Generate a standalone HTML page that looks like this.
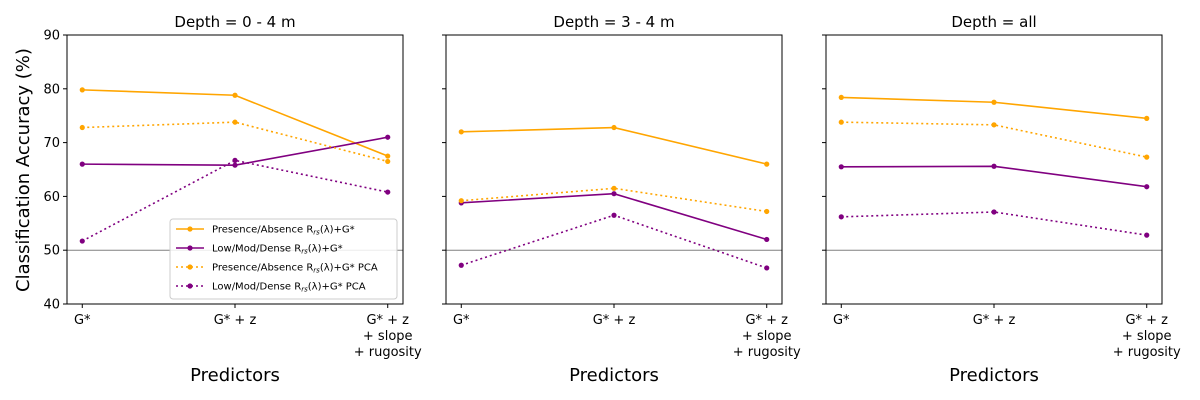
<!DOCTYPE html>
<html><head><meta charset="utf-8"><style>
body{margin:0;background:#fff}
svg{display:block;font-family:"DejaVu Sans","Liberation Sans",sans-serif}
</style></head><body>
<svg id="chart" width="1200" height="400"></svg>
<script>
const categories=["G*","G* + z","G* + z\n+ slope\n+ rugosity"];
const panelTitles=["Depth = 0 - 4 m","Depth = 3 - 4 m","Depth = all"];
const yTicks=[40,50,60,70,80,90];
const seriesNames=["Presence/Absence","Low/Mod/Dense","Presence/Absence PCA","Low/Mod/Dense PCA"];
const paSolid=[[79.8,78.8,67.5],[72,72.8,66],[78.4,77.5,74.5]];
const lmdSolid=[[66,65.8,71],[58.8,60.5,52],[65.5,65.6,61.8]];
const paPCA=[[72.8,73.8,66.5],[59.2,61.5,57.2],[73.8,73.3,67.3]];
const lmdPCA=[[51.7,66.7,60.8],[47.2,56.5,46.7],[56.2,57.1,52.8]];
const refLine=50;

const NS="http://www.w3.org/2000/svg";
const svg=document.getElementById('chart');
function mk(t,a,p){const e=document.createElementNS(NS,t);for(const k in a)e.setAttribute(k,a[k]);(p||svg).appendChild(e);return e;}
const panelX=[67,446,826],PW=336,PT=35,PB=304;
const yS=v=>PB-(v-40)/50*(PB-PT);
const seriesDefs=[
 {d:paSolid,c:"orange",dash:null,name:"presence-absence-line"},
 {d:lmdSolid,c:"purple",dash:null,name:"low-mod-dense-line"},
 {d:paPCA,c:"orange",dash:"2,3",name:"presence-absence-pca-line"},
 {d:lmdPCA,c:"purple",dash:"2,3",name:"low-mod-dense-pca-line"}];
panelX.forEach((x0,pi)=>{
 const xS=i=>x0+(i+0.1)/2.2*PW;
 const g=mk('g',{});
 
 
 const ref=mk('line',{x1:x0,x2:x0+PW,y1:yS(refLine),y2:yS(refLine),stroke:"#808080","stroke-width":1},g);
 
 
 seriesDefs.forEach(s=>{
  const vals=s.d[pi];
  const pl=mk('polyline',{points:vals.map((v,i)=>xS(i)+","+yS(v)).join(" "),fill:"none",stroke:s.c,"stroke-width":1.6},g);
  if(s.dash)pl.setAttribute('stroke-dasharray',s.dash);
  
  
  vals.forEach((v,i)=>{const c=mk('circle',{cx:xS(i),cy:yS(v),r:2.6,fill:s.c},g);
   
   });
 });
 const fr=mk('rect',{x:x0,y:PT,width:PW,height:PB-PT,fill:"none",stroke:"#000","stroke-width":1},g);
 
 
 yTicks.forEach(t=>{
  mk('line',{x1:x0-4,x2:x0,y1:yS(t),y2:yS(t),stroke:"#000"},g);
  if(pi===0){const tx=mk('text',{x:x0-7,y:yS(t)+4.5,"text-anchor":"end","font-size":13},g);tx.textContent=t;
   
   }
 });
 categories.forEach((c,i)=>{
  mk('line',{x1:xS(i),x2:xS(i),y1:PB,y2:PB+4,stroke:"#000"},g);
  c.split("\n").forEach((ln,j)=>{const tx=mk('text',{x:xS(i),y:PB+20+j*16,"text-anchor":"middle","font-size":13},g);tx.textContent=ln;
   
   });
 });
 const tt=mk('text',{x:x0+PW/2,y:27,"text-anchor":"middle","font-size":15},g);tt.textContent=panelTitles[pi];
 
 
 const xt=mk('text',{x:x0+PW/2,y:381,"text-anchor":"middle","font-size":18},g);xt.textContent="Predictors";
 
 
});
const yt=mk('text',{x:29,y:170,"text-anchor":"middle","font-size":18,transform:"rotate(-90 29 170)"});
yt.textContent="Classification Accuracy (%)";


const lg=mk('g',{});


mk('rect',{x:170,y:219,width:227,height:80,rx:3,fill:"#fff","fill-opacity":0.85,stroke:"#ccc"},lg);
const labels=["Presence/Absence R<tspan font-size='7' font-style='italic' dy='2'>rs</tspan><tspan dy='-2'>(λ)+G*</tspan>","Low/Mod/Dense R<tspan font-size='7' font-style='italic' dy='2'>rs</tspan><tspan dy='-2'>(λ)+G*</tspan>","Presence/Absence R<tspan font-size='7' font-style='italic' dy='2'>rs</tspan><tspan dy='-2'>(λ)+G* PCA</tspan>","Low/Mod/Dense R<tspan font-size='7' font-style='italic' dy='2'>rs</tspan><tspan dy='-2'>(λ)+G* PCA</tspan>"];
seriesDefs.forEach((s,i)=>{
 const y=229+i*19;
 const l=mk('line',{x1:176,x2:204,y1:y,y2:y,stroke:s.c,"stroke-width":1.6},lg);
 if(s.dash)l.setAttribute('stroke-dasharray',s.dash);
 mk('circle',{cx:190,cy:y,r:2.6,fill:s.c},lg);
 const t=mk('text',{x:212,y:y+3.5,"font-size":10},lg);t.innerHTML=labels[i];
 
 
});
</script>
</body></html>
